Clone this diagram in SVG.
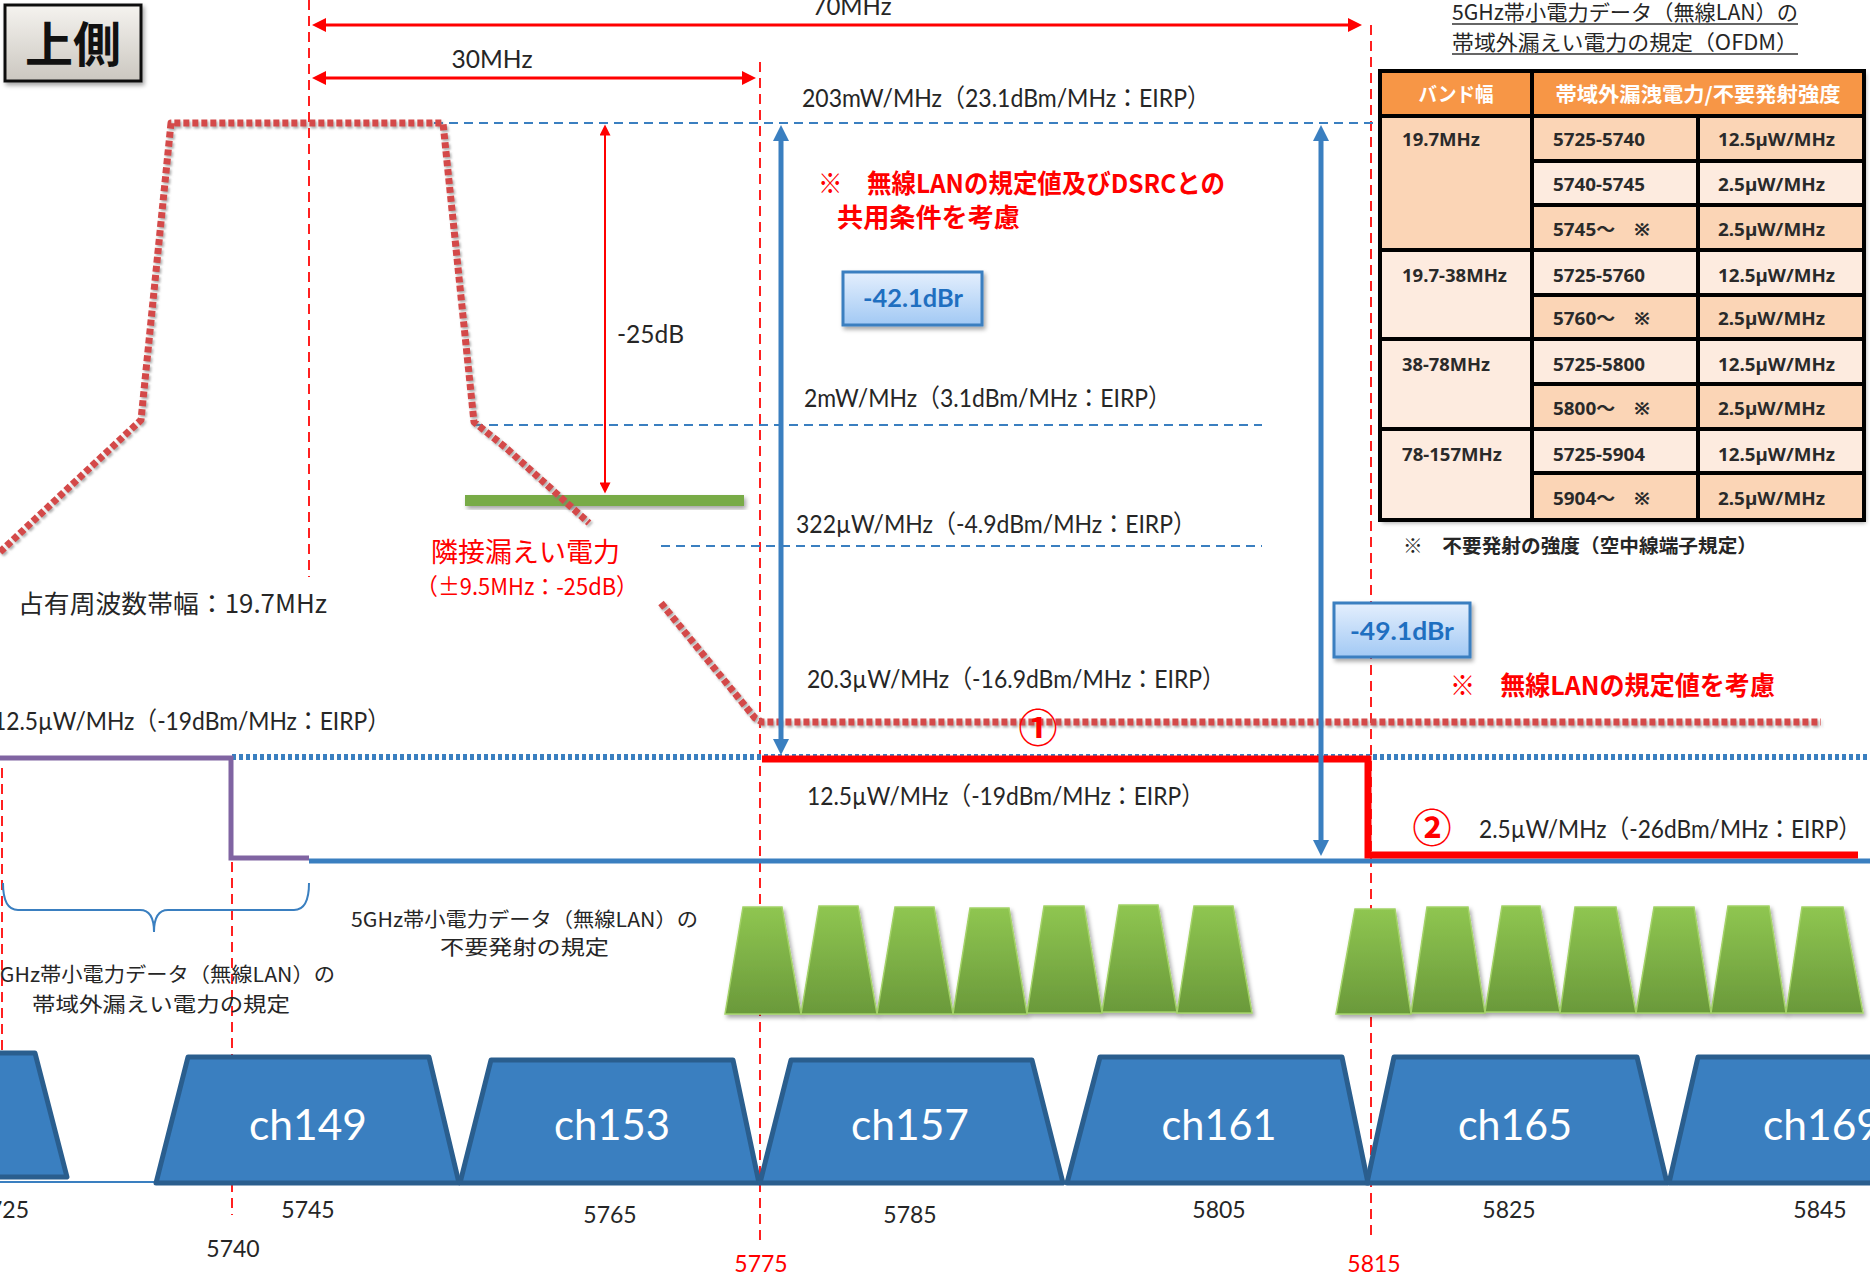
<svg xmlns="http://www.w3.org/2000/svg" width="1870" height="1275" viewBox="0 0 1870 1275">
<style>
.lbl{font-family:Lato,"Noto Sans CJK JP",sans-serif;font-size:25px;fill:#262626}
.jp{font-family:"Noto Sans CJK JP",sans-serif;fill:#262626}
.rednote{font-family:"Noto Sans CJK JP",sans-serif;font-weight:bold;font-size:26px;fill:#ff0000}
.vline{stroke:#ff2020;stroke-width:2;stroke-dasharray:10 6;fill:none}
.bdash{stroke:#3a7fc0;stroke-width:2.2;stroke-dasharray:9 6;fill:none}
.mask{stroke:#d44848;stroke-width:7;stroke-dasharray:6 3;fill:none;stroke-linejoin:round}
.bdot{stroke:#3a7fc0;stroke-width:6;stroke-dasharray:4 3;fill:none}
.ch{fill:#3a7fc0;stroke:#2a5e8e;stroke-width:5;stroke-linejoin:round}
.chl{font-family:Lato,sans-serif;font-size:42px;fill:#ffffff;text-anchor:middle}
.freq{font-family:Lato,sans-serif;font-size:23px;fill:#262626;text-anchor:middle}
.gr{fill:url(#gg);stroke:#a3d267;stroke-width:1.5;filter:url(#sh)}
.cell{font-family:"Noto Sans","Noto Sans CJK JP",sans-serif;font-size:18px;font-weight:bold;fill:#2a2a2a}
.hdr{font-family:"Noto Sans CJK JP",sans-serif;font-size:20px;font-weight:bold;fill:#ffffff;text-anchor:middle}
.dk{fill:#fbd5b6}
.lt{fill:#fdebdf}
.grid{stroke:#000;stroke-width:4;fill:none}
.dbr{font-family:Lato,sans-serif;font-weight:bold;font-size:25px;fill:#1f6fc0;text-anchor:middle}
.dbox{fill:url(#bg);stroke:#3a7fc0;stroke-width:3;filter:url(#sh)}
.circ{font-family:"Noto Sans CJK JP",sans-serif;font-weight:bold;font-size:39px;fill:#ff0000;text-anchor:middle}
</style>
<defs>
<linearGradient id="gg" x1="0" y1="0" x2="0" y2="1"><stop offset="0" stop-color="#8fc651"/><stop offset="1" stop-color="#6a993a"/></linearGradient>
<linearGradient id="bg" x1="0" y1="0" x2="0" y2="1"><stop offset="0" stop-color="#e4effd"/><stop offset="1" stop-color="#a2c9f4"/></linearGradient>
<linearGradient id="tg" x1="0" y1="0" x2="0" y2="1"><stop offset="0" stop-color="#f5f3ef"/><stop offset="1" stop-color="#cbc7c0"/></linearGradient>
<filter id="sh" x="-10%" y="-10%" width="130%" height="140%"><feDropShadow dx="2" dy="3" stdDeviation="2" flood-color="#000" flood-opacity="0.35"/></filter>
<filter id="msh" x="-5%" y="-5%" width="110%" height="110%"><feDropShadow dx="1.5" dy="2" stdDeviation="1.2" flood-color="#777" flood-opacity="0.6"/></filter>
<marker id="ra" viewBox="0 0 10 10" refX="5" refY="5" markerUnits="userSpaceOnUse" markerWidth="18" markerHeight="14" orient="auto-start-reverse"><path d="M0,0L10,5L0,10z" fill="#ff0000"/></marker>
<marker id="rs" viewBox="0 0 10 10" refX="5" refY="5" markerUnits="userSpaceOnUse" markerWidth="14" markerHeight="11" orient="auto-start-reverse"><path d="M0,0L10,5L0,10z" fill="#ff0000"/></marker>
<marker id="ba" viewBox="0 0 10 10" refX="5" refY="5" markerUnits="userSpaceOnUse" markerWidth="20" markerHeight="16" orient="auto-start-reverse"><path d="M0,0L10,5L0,10z" fill="#3a7fc0"/></marker>
</defs>
<rect width="1870" height="1275" fill="#ffffff"/>

<g id="title-box">
<rect x="5" y="5" width="136" height="76" fill="url(#tg)" stroke="#111" stroke-width="3" filter="url(#sh)"/>
<text x="73" y="62" text-anchor="middle" font-family="'Noto Sans CJK JP',sans-serif" font-weight="bold" font-size="48" fill="#111">上側</text>
</g>

<g id="freq-lines">
<line class="vline" x1="309" y1="0" x2="309" y2="577"/>
<line class="vline" x1="760" y1="62" x2="760" y2="1242"/>
<line class="vline" x1="1371" y1="25" x2="1371" y2="1237"/>
<line class="vline" x1="2" y1="768" x2="2" y2="1183"/>
<line class="vline" x1="232" y1="862" x2="232" y2="1215"/>
</g>

<g id="level-lines">
<line class="bdash" x1="434" y1="123" x2="1380" y2="123"/>
<line class="bdash" x1="474" y1="425" x2="1262" y2="425"/>
<line class="bdash" x1="661" y1="546" x2="1262" y2="546"/>
<line class="bdot" x1="232" y1="757" x2="1870" y2="757"/>
<line x1="309" y1="861" x2="1870" y2="861" stroke="#3a7fc0" stroke-width="5"/>
<polyline points="0,758 231,758 231,858 309,858" fill="none" stroke="#8064a2" stroke-width="5"/>
</g>

<g id="green-bar"><rect x="465" y="495" width="279" height="11" fill="#78ab46" filter="url(#sh)"/></g>

<g id="spectrum-mask" filter="url(#msh)">
<polyline class="mask" points="0,552 141,420 171,123 443,123 474,422 505,447 589,523"/>
<polyline class="mask" points="661,603 755,718 762,722 1821,722"/>
</g>

<g id="limit-line">
<polyline points="762,759 1368,759 1368,855 1858,855" fill="none" stroke="#ff0000" stroke-width="7"/>
</g>

<g id="connectors">
<line x1="319" y1="25" x2="1355" y2="25" stroke="#ff0000" stroke-width="3" marker-start="url(#ra)" marker-end="url(#ra)"/>
<line x1="319" y1="78" x2="749" y2="78" stroke="#ff0000" stroke-width="3" marker-start="url(#ra)" marker-end="url(#ra)"/>
<line x1="605" y1="130" x2="605" y2="488" stroke="#ff0000" stroke-width="2" marker-start="url(#rs)" marker-end="url(#rs)"/>
<line x1="781" y1="133" x2="781" y2="747" stroke="#3a7fc0" stroke-width="5" marker-start="url(#ba)" marker-end="url(#ba)"/>
<line x1="1321" y1="133" x2="1321" y2="848" stroke="#3a7fc0" stroke-width="5" marker-start="url(#ba)" marker-end="url(#ba)"/>
<path d="M3,883 Q3,910 18,910 L140,910 Q154,910 154,932 Q154,910 168,910 L294,910 Q309,910 309,883" fill="none" stroke="#3a7fc0" stroke-width="2"/>
<line x1="0" y1="1182" x2="156" y2="1182" stroke="#3a7fc0" stroke-width="2"/>
</g>

<g id="labels">
<text class="lbl" x="852" y="15" text-anchor="middle" font-size="23" textLength="79" lengthAdjust="spacingAndGlyphs">70MHz</text>
<text class="lbl" x="492" y="68" text-anchor="middle" font-size="22" textLength="81" lengthAdjust="spacingAndGlyphs">30MHz</text>
<text class="lbl" x="617" y="343" font-size="23" textLength="67" lengthAdjust="spacingAndGlyphs">-25dB</text>
<text class="lbl" x="802" y="107" textLength="408" lengthAdjust="spacingAndGlyphs">203mW/MHz（23.1dBm/MHz：EIRP）</text>
<text class="lbl" x="804" y="407" textLength="367" lengthAdjust="spacingAndGlyphs">2mW/MHz（3.1dBm/MHz：EIRP）</text>
<text class="lbl" x="796" y="533" textLength="400" lengthAdjust="spacingAndGlyphs">322µW/MHz（-4.9dBm/MHz：EIRP）</text>
<text class="lbl" x="807" y="688" textLength="418" lengthAdjust="spacingAndGlyphs">20.3µW/MHz（-16.9dBm/MHz：EIRP）</text>
<text class="lbl" x="807" y="805" textLength="397" lengthAdjust="spacingAndGlyphs">12.5µW/MHz（-19dBm/MHz：EIRP）</text>
<text class="lbl" x="-7" y="730" textLength="397" lengthAdjust="spacingAndGlyphs">12.5µW/MHz（-19dBm/MHz：EIRP）</text>
<text class="lbl" x="1479" y="838" textLength="382" lengthAdjust="spacingAndGlyphs">2.5µW/MHz（-26dBm/MHz：EIRP）</text>
<text class="jp" x="18" y="613" font-size="25" textLength="309" lengthAdjust="spacingAndGlyphs">占有周波数帯幅：19.7MHz</text>
<text class="jp" x="431" y="562" font-size="27" style="fill:#ff0000" textLength="189" lengthAdjust="spacingAndGlyphs">隣接漏えい電力</text>
<text class="jp" x="416" y="595" font-size="23" style="fill:#ff0000" textLength="222" lengthAdjust="spacingAndGlyphs">（±9.5MHz：-25dB）</text>
<text class="rednote" x="818" y="193" textLength="407" lengthAdjust="spacingAndGlyphs">※　無線LANの規定値及びDSRCとの</text>
<text class="rednote" x="837" y="227" textLength="183" lengthAdjust="spacingAndGlyphs">共用条件を考慮</text>
<text class="rednote" x="1450" y="695" textLength="325" lengthAdjust="spacingAndGlyphs">※　無線LANの規定値を考慮</text>
<text class="circ" x="1038" y="742">①</text>
<text class="circ" x="1432" y="842">②</text>
<text class="jp" x="351" y="927" font-size="20" textLength="347" lengthAdjust="spacingAndGlyphs">5GHz帯小電力データ（無線LAN）の</text>
<text class="jp" x="440" y="955" font-size="20" textLength="169" lengthAdjust="spacingAndGlyphs">不要発射の規定</text>
<text class="jp" x="-12" y="982" font-size="20" textLength="347" lengthAdjust="spacingAndGlyphs">5GHz帯小電力データ（無線LAN）の</text>
<text class="jp" x="32" y="1012" font-size="20" textLength="258" lengthAdjust="spacingAndGlyphs">帯域外漏えい電力の規定</text>
</g>

<g id="dbr-42">
<rect class="dbox" x="843" y="272" width="139" height="53"/>
<text class="dbr" x="913" y="307" textLength="100" lengthAdjust="spacingAndGlyphs">-42.1dBr</text>
</g>
<g id="dbr-49">
<rect class="dbox" x="1334" y="603" width="136" height="54"/>
<text class="dbr" x="1402" y="640" textLength="104" lengthAdjust="spacingAndGlyphs">-49.1dBr</text>
</g>

<g id="table">
<text class="jp" x="1452" y="20" font-size="21" textLength="346" lengthAdjust="spacingAndGlyphs">5GHz帯小電力データ（無線LAN）の</text>
<text class="jp" x="1452" y="50" font-size="21" textLength="346" lengthAdjust="spacingAndGlyphs">帯域外漏えい電力の規定（OFDM）</text>
<line x1="1452" y1="24" x2="1798" y2="24" stroke="#333" stroke-width="1.5"/>
<line x1="1452" y1="54" x2="1798" y2="54" stroke="#333" stroke-width="1.5"/>
<rect x="1380" y="71" width="484" height="449" fill="#fff" filter="url(#sh)"/>
<rect x="1380" y="71" width="484" height="45" fill="#f79646"/>
<rect class="dk" x="1380" y="116" width="152" height="134"/>
<rect class="lt" x="1380" y="250" width="152" height="270"/>
<rect class="dk" x="1532" y="116" width="332" height="45"/>
<rect class="lt" x="1532" y="161" width="332" height="44"/>
<rect class="dk" x="1532" y="205" width="332" height="45"/>
<rect class="lt" x="1532" y="250" width="332" height="45"/>
<rect class="dk" x="1532" y="295" width="332" height="44"/>
<rect class="lt" x="1532" y="339" width="332" height="45"/>
<rect class="dk" x="1532" y="384" width="332" height="45"/>
<rect class="lt" x="1532" y="429" width="332" height="44"/>
<rect class="dk" x="1532" y="473" width="332" height="47"/>
<rect class="grid" x="1380" y="71" width="484" height="449"/>
<path class="grid" d="M1532,71V520 M1698,116V520 M1380,116H1864 M1380,250H1864 M1380,339H1864 M1380,429H1864 M1532,161H1864 M1532,205H1864 M1532,295H1864 M1532,384H1864 M1532,473H1864"/>
<text class="hdr" x="1456" y="102" textLength="75" lengthAdjust="spacingAndGlyphs">バンド幅</text>
<text class="hdr" x="1698" y="102" textLength="285" lengthAdjust="spacingAndGlyphs">帯域外漏洩電力/不要発射強度</text>
<text class="cell" x="1402" y="146" textLength="78" lengthAdjust="spacingAndGlyphs">19.7MHz</text>
<text class="cell" x="1402" y="282" textLength="105" lengthAdjust="spacingAndGlyphs">19.7-38MHz</text>
<text class="cell" x="1402" y="371" textLength="88" lengthAdjust="spacingAndGlyphs">38-78MHz</text>
<text class="cell" x="1402" y="461" textLength="100" lengthAdjust="spacingAndGlyphs">78-157MHz</text>
<text class="cell" x="1553" y="146" textLength="92" lengthAdjust="spacingAndGlyphs">5725-5740</text>
<text class="cell" x="1553" y="191" textLength="92" lengthAdjust="spacingAndGlyphs">5740-5745</text>
<text class="cell" x="1553" y="236" textLength="97" lengthAdjust="spacingAndGlyphs">5745～　※</text>
<text class="cell" x="1553" y="282" textLength="92" lengthAdjust="spacingAndGlyphs">5725-5760</text>
<text class="cell" x="1553" y="325" textLength="97" lengthAdjust="spacingAndGlyphs">5760～　※</text>
<text class="cell" x="1553" y="371" textLength="92" lengthAdjust="spacingAndGlyphs">5725-5800</text>
<text class="cell" x="1553" y="415" textLength="97" lengthAdjust="spacingAndGlyphs">5800～　※</text>
<text class="cell" x="1553" y="461" textLength="92" lengthAdjust="spacingAndGlyphs">5725-5904</text>
<text class="cell" x="1553" y="505" textLength="97" lengthAdjust="spacingAndGlyphs">5904～　※</text>
<text class="cell" x="1718" y="146" textLength="117" lengthAdjust="spacingAndGlyphs">12.5µW/MHz</text>
<text class="cell" x="1718" y="191" textLength="107" lengthAdjust="spacingAndGlyphs">2.5µW/MHz</text>
<text class="cell" x="1718" y="236" textLength="107" lengthAdjust="spacingAndGlyphs">2.5µW/MHz</text>
<text class="cell" x="1718" y="282" textLength="117" lengthAdjust="spacingAndGlyphs">12.5µW/MHz</text>
<text class="cell" x="1718" y="325" textLength="107" lengthAdjust="spacingAndGlyphs">2.5µW/MHz</text>
<text class="cell" x="1718" y="371" textLength="117" lengthAdjust="spacingAndGlyphs">12.5µW/MHz</text>
<text class="cell" x="1718" y="415" textLength="107" lengthAdjust="spacingAndGlyphs">2.5µW/MHz</text>
<text class="cell" x="1718" y="461" textLength="117" lengthAdjust="spacingAndGlyphs">12.5µW/MHz</text>
<text class="cell" x="1718" y="505" textLength="107" lengthAdjust="spacingAndGlyphs">2.5µW/MHz</text>
<text class="jp" x="1403" y="553" font-size="19" font-weight="bold" textLength="354" lengthAdjust="spacingAndGlyphs">※　不要発射の強度（空中線端子規定）</text>
</g>

<g id="green-emissions">
<polygon class="gr" points="725,1014 743,907 782,907 801,1014"/>
<polygon class="gr" points="801,1014 819,906 858,906 877,1014"/>
<polygon class="gr" points="877,1014 895,907 934,907 953,1014"/>
<polygon class="gr" points="953,1014 970,908 1009,908 1027,1014"/>
<polygon class="gr" points="1027,1013 1044,906 1084,906 1102,1013"/>
<polygon class="gr" points="1102,1012 1119,905 1158,905 1177,1012"/>
<polygon class="gr" points="1177,1013 1194,906 1233,906 1252,1013"/>
<polygon class="gr" points="1336,1014 1355,909 1395,909 1411,1014"/>
<polygon class="gr" points="1411,1013 1427,907 1468,907 1485,1013"/>
<polygon class="gr" points="1485,1012 1502,906 1540,906 1560,1012"/>
<polygon class="gr" points="1560,1013 1575,907 1616,907 1636,1013"/>
<polygon class="gr" points="1636,1013 1654,907 1694,907 1711,1013"/>
<polygon class="gr" points="1711,1013 1728,906 1769,906 1786,1013"/>
<polygon class="gr" points="1786,1013 1802,907 1843,907 1863,1013"/>
</g>

<g id="channels">
<g id="ch145"><polygon class="ch" points="-10,1053 35,1053 67,1177 -10,1177"/><text class="freq" x="29" y="1218" style="text-anchor:end">5725</text></g>
<g id="ch149"><polygon class="ch" points="188,1057 429,1057 459,1183 156,1183"/><text class="chl" x="308" y="1140" textLength="118" lengthAdjust="spacingAndGlyphs">ch149</text><text class="freq" x="308" y="1218">5745</text></g>
<g id="ch153"><polygon class="ch" points="491,1060 733,1060 759,1183 460,1183"/><text class="chl" x="612" y="1140" textLength="116" lengthAdjust="spacingAndGlyphs">ch153</text><text class="freq" x="610" y="1223">5765</text></g>
<g id="ch157"><polygon class="ch" points="791,1060 1032,1060 1063,1183 760,1183"/><text class="chl" x="910" y="1140" textLength="118" lengthAdjust="spacingAndGlyphs">ch157</text><text class="freq" x="910" y="1223">5785</text></g>
<g id="ch161"><polygon class="ch" points="1100,1057 1342,1057 1368,1183 1067,1183"/><text class="chl" x="1219" y="1140" textLength="115" lengthAdjust="spacingAndGlyphs">ch161</text><text class="freq" x="1219" y="1218">5805</text></g>
<g id="ch165"><polygon class="ch" points="1394,1057 1637,1057 1667,1183 1367,1183"/><text class="chl" x="1515" y="1140" textLength="114" lengthAdjust="spacingAndGlyphs">ch165</text><text class="freq" x="1509" y="1218">5825</text></g>
<g id="ch169"><polygon class="ch" points="1698,1057 1890,1057 1890,1183 1669,1183"/><text class="chl" x="1822" y="1140" textLength="118" lengthAdjust="spacingAndGlyphs">ch169</text><text class="freq" x="1820" y="1218">5845</text></g>
</g>

<g id="axis-labels">
<text class="freq" x="233" y="1257">5740</text>
<text class="freq" x="761" y="1272" style="fill:#ff0000">5775</text>
<text class="freq" x="1374" y="1272" style="fill:#ff0000">5815</text>
</g>
</svg>
